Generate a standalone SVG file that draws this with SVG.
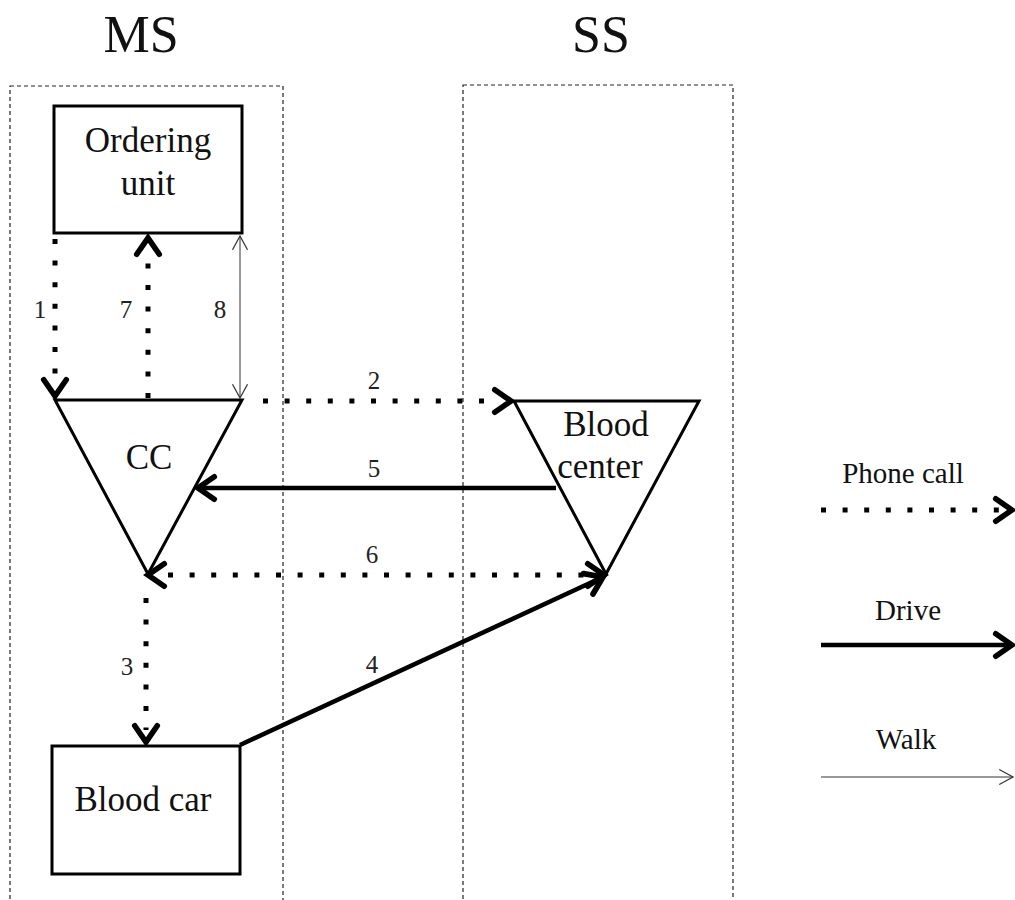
<svg xmlns="http://www.w3.org/2000/svg" width="1015" height="900" viewBox="0 0 1015 900">
  <style>
    text { font-family: "Liberation Serif", "Times New Roman", serif; fill: #111; }
    .title { font-size: 52px; text-anchor: middle; }
    .node-label { font-size: 35px; text-anchor: middle; }
    .num { font-size: 25px; text-anchor: middle; fill: #222; }
    .legend-label { font-size: 29px; text-anchor: middle; }
    .zone { fill: none; stroke: #222; stroke-width: 1.2; stroke-dasharray: 4 3; }
    .shape { fill: #fff; stroke: #000; stroke-width: 3; }
    .phone { fill: none; stroke: #000; stroke-width: 5; stroke-dasharray: 5 16.6; }
    .drive { fill: none; stroke: #000; stroke-width: 4.5; }
    .walk { fill: none; stroke: #333; stroke-width: 1; }
  </style>
  <defs>
    <marker id="head-bold" markerUnits="userSpaceOnUse" markerWidth="30" markerHeight="30" viewBox="-16 -12 20 24" refX="0" refY="0" orient="auto-start-reverse" overflow="visible">
      <path d="M -13 -9 L 0 0 L -13 9" fill="none" stroke="#000" stroke-width="4.5" stroke-dasharray="none" stroke-linecap="round" stroke-linejoin="miter"/>
    </marker>
    <marker id="head-thin" markerUnits="userSpaceOnUse" markerWidth="20" markerHeight="20" viewBox="-12 -8 14 16" refX="0" refY="0" orient="auto-start-reverse" overflow="visible">
      <path d="M -11 -6 L 0 0 L -11 6" fill="none" stroke="#333" stroke-width="1" stroke-dasharray="none"/>
    </marker>
  </defs>

  <!-- swim lanes -->
  <g id="lane-ms">
    <rect class="zone" x="10" y="86" width="273" height="830"/>
    <text class="title" x="141" y="52">MS</text>
  </g>
  <g id="lane-ss">
    <rect class="zone" x="463" y="85" width="270" height="830"/>
    <text class="title" x="601" y="52">SS</text>
  </g>

  <!-- nodes -->
  <g id="ordering-unit">
    <rect class="shape" x="54" y="106" width="188" height="127"/>
    <text class="node-label" x="148" y="152">Ordering</text>
    <text class="node-label" x="148" y="195">unit</text>
  </g>
  <g id="cc">
    <polygon class="shape" points="55,400 242,400 148,574"/>
    <text class="node-label" x="149" y="469">CC</text>
  </g>
  <g id="blood-center">
    <polygon class="shape" points="514,401 699,401 606,574"/>
    <text class="node-label" x="606" y="436">Blood</text>
    <text class="node-label" x="600" y="478">center</text>
  </g>
  <g id="blood-car">
    <rect class="shape" x="52" y="746" width="188" height="128"/>
    <text class="node-label" x="143" y="811">Blood car</text>
  </g>

  <!-- connectors -->
  <g id="connectors">
    <!-- 1: ordering unit to CC (phone) -->
    <path class="phone" d="M 55 239 L 55 384"/>
    <path d="M 55 380 L 55 396" fill="none" stroke="none" marker-end="url(#head-bold)"/>
    <!-- 7: CC to ordering unit (phone) -->
    <path class="phone" d="M 148 398 L 148 256"/>
    <path d="M 148 250 L 148 238" fill="none" stroke="none" marker-end="url(#head-bold)"/>
    <!-- 8: ordering unit and CC (walk) -->
    <path class="walk" d="M 240 236 L 240 398" marker-start="url(#head-thin)" marker-end="url(#head-thin)"/>
    <!-- 2: CC to blood center (phone) -->
    <path class="phone" d="M 263 401 L 500 401"/>
    <path d="M 490 401 L 511 401" fill="none" stroke="none" marker-end="url(#head-bold)"/>
    <!-- 5: blood center to CC (drive) -->
    <path class="drive" d="M 556 488 L 198 488" marker-end="url(#head-bold)"/>
    <!-- 6: CC and blood center (phone, both ways) -->
    <path class="phone" d="M 168 575 L 590 575"/>
    <path d="M 148 575 L 604 575" fill="none" stroke="none" marker-start="url(#head-bold)" marker-end="url(#head-bold)"/>
    <!-- 3: CC to blood car (phone) -->
    <path class="phone" d="M 146 598 L 146 730"/>
    <path d="M 146 720 L 146 742" fill="none" stroke="none" marker-end="url(#head-bold)"/>
    <!-- 4: blood car to blood center (drive) -->
    <path class="drive" d="M 240 745 L 603 577" marker-end="url(#head-bold)"/>

    <text class="num" x="40" y="318">1</text>
    <text class="num" x="126" y="318">7</text>
    <text class="num" x="220" y="318">8</text>
    <text class="num" x="374" y="389">2</text>
    <text class="num" x="374" y="477">5</text>
    <text class="num" x="372" y="563">6</text>
    <text class="num" x="127" y="675">3</text>
    <text class="num" x="372" y="673">4</text>
  </g>

  <!-- legend -->
  <g id="legend">
    <text class="legend-label" x="903" y="483">Phone call</text>
    <path class="phone" d="M 821 510 L 1000 510"/>
    <path d="M 995 510 L 1012 510" fill="none" stroke="none" marker-end="url(#head-bold)"/>
    <text class="legend-label" x="908" y="620">Drive</text>
    <path class="drive" d="M 821 645 L 1012 645" marker-end="url(#head-bold)"/>
    <text class="legend-label" x="906" y="749">Walk</text>
    <path class="walk" d="M 821 777 L 1013 777" marker-end="url(#head-thin)"/>
  </g>
</svg>
